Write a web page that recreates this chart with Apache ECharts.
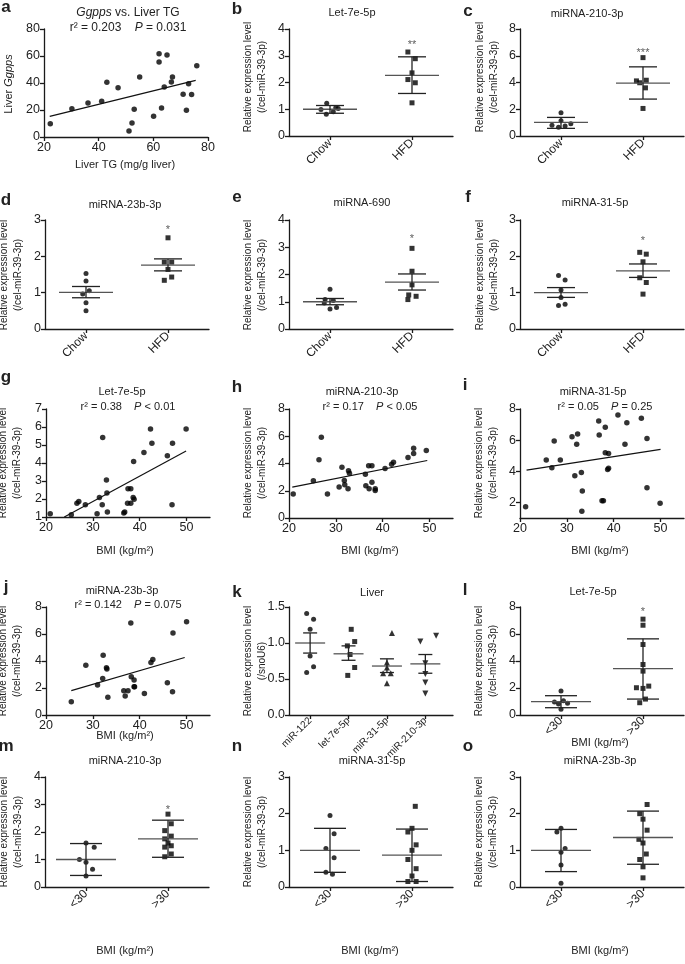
<!DOCTYPE html>
<html><head><meta charset="utf-8">
<script src="https://cdn.jsdelivr.net/npm/echarts@6/dist/echarts.min.js"></script>
<style>html,body{margin:0;padding:0;background:#fff}#c{width:685px;height:964px}</style>
</head><body><div id="c"></div><script>
const FONT = '"Liberation Sans", Arial, Helvetica, sans-serif';

// ---------------- DATA ----------------
// a: Liver TG (mg/g) vs Liver Ggpps
const aPoints = [[22.3,9.9],[30.2,21],[36.1,25.2],[41.1,26.4],[43.0,40.5],[47.1,36.5],[51.1,4.4],[52.2,10.4],[53.0,20.5],[55.0,44.4],[60.1,15.3],[62.1,61.7],[62.1,55.6],[63.0,21.5],[64.0,37],[65.0,60.7],[66.6,40.7],[67.0,44.4],[70.9,31.6],[72.1,19.8],[72.9,39.5],[74.0,31.4],[75.9,52.8]];
const aFit = [[22.1,15.3],[75.5,42]];

// group panels: points are [jitter, value]; bars are [group, mean, low, high]
const dietCats = ['Chow','HFD'];
const bmiCats = ['<30','>30'];

const bChow = [[-0.04,1.22],[-0.11,0.99],[0.07,1.06],[0.1,1.03],[0.04,0.91],[-0.045,0.81]];
const bHFD = [[-0.05,3.14],[0.04,2.89],[0,2.36],[-0.05,2.11],[0.04,1.99],[0,1.24]];
const bBars = [[0,1.0,0.85,1.14],[1,2.27,1.59,2.96]];
const bStar = [1,3.4,'**'];

const cChow = [[0,1.74],[0,1.14],[-0.11,0.8],[-0.03,0.65],[0.05,0.75],[0.12,0.92]];
const cHFD = [[0,5.86],[-0.08,4.12],[-0.04,3.98],[0.04,4.17],[0.03,3.6],[0,2.06]];
const cBars = [[0,1.02,0.57,1.39],[1,3.95,2.76,5.17]];
const cStar = [1,6.2,'***'];

const dChow = [[0,1.53],[0,1.32],[0.04,1.05],[-0.04,0.96],[0,0.72],[0,0.5]];
const dHFD = [[0,2.51],[-0.045,1.84],[0.045,1.84],[0,1.64],[0.045,1.43],[-0.045,1.34]];
const dBars = [[0,1.01,0.86,1.17],[1,1.76,1.6,1.93]];
const dStar = [1,2.72,'*'];

const eChow = [[0,1.46],[-0.06,1.08],[0.04,1.05],[-0.07,0.95],[0,0.73],[0.08,0.79]];
const eHFD = [[0,2.96],[0,2.12],[0,1.62],[-0.04,1.25],[0.05,1.2],[-0.05,1.08]];
const eBars = [[0,1.0,0.89,1.12],[1,1.72,1.43,2.02]];
const eStar = [1,3.32,'*'];

const fChow = [[-0.03,1.47],[0.05,1.35],[0,1.07],[0,0.87],[-0.03,0.65],[0.05,0.68]];
const fHFD = [[-0.04,2.11],[0.04,2.06],[0,1.85],[-0.04,1.41],[0.04,1.28],[0,0.96]];
const fBars = [[0,1.0,0.87,1.14],[1,1.6,1.42,1.79]];
const fStar = [1,2.42,'*'];

// BMI scatter panels [BMI, value]
const gPoints = [[20.9,1.18],[25.4,1.13],[26.6,1.77],[27.0,1.86],[28.4,1.68],[30.9,1.18],[31.4,2.09],[32.0,1.68],[32.1,5.41],[32.9,3.05],[33.0,2.33],[33.1,1.28],[36.6,1.22],[36.8,1.28],[37.4,1.77],[37.5,2.57],[38.1,2.57],[38.1,1.77],[38.6,2.09],[38.7,4.08],[38.8,1.99],[40.9,4.58],[42.3,5.89],[42.6,5.1],[45.9,4.4],[47.0,5.1],[46.9,1.68],[49.9,5.89]];
const gFit = [[23.9,1.0],[49.9,4.67]];
const hPoints = [[20.9,1.76],[25.2,2.73],[26.4,4.27],[26.9,5.93],[28.2,1.76],[30.7,2.27],[31.3,3.73],[31.8,2.76],[31.9,2.44],[32.6,2.15],[32.7,3.46],[32.9,3.29],[36.3,3.22],[36.4,2.37],[37.0,3.83],[37.1,2.15],[37.7,3.83],[37.7,2.63],[38.4,2.15],[38.4,2.02],[40.5,3.63],[41.9,3.95],[42.3,4.1],[45.4,4.44],[46.6,4.73],[46.6,5.12],[49.3,4.95]];
const hFit = [[20.7,2.27],[49.5,4.22]];
const iPoints = [[21.2,1.72],[25.6,4.72],[26.8,4.23],[27.3,5.94],[28.6,4.72],[31.1,6.22],[31.7,3.71],[32.1,5.73],[32.3,6.39],[33.1,3.93],[33.3,2.73],[33.2,1.44],[36.8,7.23],[36.9,6.33],[37.5,2.11],[37.8,2.11],[38.2,6.82],[38.2,5.19],[38.9,5.15],[38.7,4.12],[38.9,4.19],[40.9,7.61],[42.4,5.73],[42.8,7.12],[45.9,7.4],[47.1,2.94],[47.1,6.11],[49.9,1.94]];
const iFit = [[21.4,4.08],[50,5.41]];
const jPoints = [[25.4,0.98],[28.5,3.69],[31.0,2.22],[32.1,2.71],[32.2,4.43],[32.9,3.5],[33.0,3.4],[33.2,1.31],[36.6,1.8],[36.9,1.4],[37.5,1.8],[38.1,6.82],[38.2,2.83],[38.8,2.09],[38.8,2.59],[38.9,2.09],[41.0,1.6],[42.4,3.89],[42.8,4.11],[45.9,2.39],[47.0,1.72],[47.1,6.08],[50.0,6.9]];
const jFit = [[25.4,1.8],[49.6,4.26]];

// k: liver miRNAs (/snoU6)
const kCats = ['miR-122','let-7e-5p','miR-31-5p','miR-210-3p'];
const k122 = [[-0.09,1.41],[0.09,1.33],[0,1.19],[0,0.82],[0.09,0.67],[-0.09,0.59]];
const kLet = [[0.07,1.19],[0.16,1.02],[-0.03,0.96],[0.04,0.84],[0.16,0.66],[-0.02,0.55]];
const k31 = [[0.13,1.14],[0,0.73],[0,0.66],[-0.1,0.58],[0.1,0.58],[0,0.44]];
const k210 = [[-0.13,1.02],[0.28,1.1],[0,0.72],[0,0.57],[0,0.45],[0,0.3]];
const kBars = [[0,1.0,0.86,1.14],[1,0.85,0.76,0.96],[2,0.68,0.59,0.78],[3,0.71,0.58,0.84]];

// l-o: BMI <30 vs >30
const lLow = [[0,1.77],[-0.08,0.97],[0.03,1.05],[0.08,0.87],[-0.03,0.82],[0,0.42]];
const lHigh = [[0,7.1],[0,6.65],[0,5.22],[0,3.74],[0,3.25],[-0.08,2.02],[0,1.97],[0.07,2.14],[0.03,1.18],[-0.04,0.91]];
const lBars = [[0,0.99,0.54,1.43],[1,3.43,1.18,5.64]];
const lStar = [1,7.6,'*'];

const mLow = [[0,1.6],[0.1,1.45],[-0.08,1.0],[0,0.9],[0.08,0.65],[0,0.4]];
const mHigh = [[0,2.65],[0.04,2.3],[-0.04,2.05],[0.04,1.85],[-0.04,1.75],[0,1.6],[0.04,1.5],[-0.04,1.45],[0.04,1.2],[-0.04,1.1]];
const mBars = [[0,1.0,0.42,1.58],[1,1.75,1.08,2.43]];
const mStar = [1,2.8,'*'];

const nLow = [[0,1.95],[0.05,1.45],[-0.05,1.05],[0.05,0.8],[-0.05,0.4],[0.03,0.35]];
const nHigh = [[0.04,2.2],[0,1.6],[-0.05,1.5],[0.05,1.15],[0,1.0],[-0.05,0.75],[0.05,0.5],[0,0.3],[-0.05,0.15],[0.05,0.15]];
const nBars = [[0,1.0,0.4,1.6],[1,0.87,0.15,1.58]];

const oLow = [[0,1.6],[-0.05,1.5],[0.05,1.05],[0,0.95],[0,0.6],[0,0.1]];
const oHigh = [[0.05,2.25],[-0.04,2.0],[0,1.85],[0.05,1.55],[-0.05,1.3],[0,1.2],[0.04,0.9],[-0.04,0.75],[0,0.55],[0,0.25]];
const oBars = [[0,1.0,0.42,1.57],[1,1.35,0.62,2.07]];

// ---------------- BUILD ----------------
const AX = '#1a1a1a';
const TICKFS = 12.5;
const option = {animation:false, backgroundColor:'#fff', grid:[], xAxis:[], yAxis:[], series:[], graphic:[]};

function axisBase(extra){
  return Object.assign({
    type:'value',
    axisLine:{show:true,onZero:false,lineStyle:{color:AX,width:1.3}},
    axisTick:{show:true,length:4,lineStyle:{color:AX,width:1.3}},
    axisLabel:{color:'#222',fontSize:TICKFS,fontFamily:FONT,margin:4},
    splitLine:{show:false}
  }, extra);
}
function addGrid(b){
  const i = option.grid.length;
  option.grid.push({left:b[0],top:b[1],width:b[2],height:b[3]});
  return i;
}
function yAxisOf(gi, y){
  const ax = axisBase({gridIndex:gi, min:y.min, max:y.max});
  if (y.ticks){
    ax.axisTick = Object.assign({}, ax.axisTick, {customValues:y.ticks});
    ax.axisLabel = Object.assign({}, ax.axisLabel, {customValues:y.ticks});
  } else ax.interval = y.step;
  if (y.fmt) ax.axisLabel.formatter = y.fmt;
  return ax;
}
function errRender(hm, hc){
  return function(params, api){
    const x=api.value(0), m=api.value(1), lo=api.value(2), hi=api.value(3);
    const pm=api.coord([x,m]), pl=api.coord([x,lo]), ph=api.coord([x,hi]);
    const ls={stroke:'#222',lineWidth:1.3};
    return {type:'group', children:[
      {type:'line',shape:{x1:pm[0]-hm,y1:pm[1],x2:pm[0]+hm,y2:pm[1]},style:{stroke:'#555',lineWidth:1.3}},
      {type:'line',shape:{x1:pl[0],y1:pl[1],x2:ph[0],y2:ph[1]},style:ls},
      {type:'line',shape:{x1:pl[0]-hc,y1:pl[1],x2:pl[0]+hc,y2:pl[1]},style:ls},
      {type:'line',shape:{x1:ph[0]-hc,y1:ph[1],x2:ph[0]+hc,y2:ph[1]},style:ls}
    ]};
  };
}
function groupPanel(box, cats, xr, groups, symbols, bars, y, star, hw, lab){
  lab = lab || {};
  const gi = addGrid(box);
  const ticks = cats.map((c,i)=>i);
  option.xAxis.push(axisBase({gridIndex:gi, min:xr[0], max:xr[1],
    axisTick:{show:true,length:4,lineStyle:{color:AX,width:1.3},customValues:ticks},
    axisLabel:{color:'#222',fontSize:lab.size||12,fontFamily:FONT,margin:lab.margin||5,rotate:45,customValues:ticks,
      formatter:v=>cats[Math.round(v)]}}));
  option.yAxis.push(yAxisOf(gi, y));
  groups.forEach((g,k)=>{
    const s = symbols[k];
    option.series.push({type:'scatter', xAxisIndex:gi, yAxisIndex:gi,
      symbol:s.sym, symbolRotate:s.rot||0, symbolSize:s.size||5, itemStyle:{color:'#000'},
      data:g.map(p=>[k+p[0], p[1]])});
  });
  option.series.push({type:'custom', xAxisIndex:gi, yAxisIndex:gi, renderItem:errRender(hw[0],hw[1]),
    data:bars, z:3, clip:false});
  if (star){
    option.series.push({type:'scatter', xAxisIndex:gi, yAxisIndex:gi, symbol:'circle', symbolSize:1,
      itemStyle:{color:'rgba(0,0,0,0)'}, data:[[star[0],star[1]]],
      label:{show:true,position:'inside',formatter:star[2],color:'#333',fontSize:11,fontFamily:FONT}});
  }
  return gi;
}
function scatPanel(box, pts, fit, x, y){
  const gi = addGrid(box);
  const xa = axisBase({gridIndex:gi, min:x.min, max:x.max});
  if (x.ticks){
    xa.axisTick = Object.assign({}, xa.axisTick, {customValues:x.ticks});
    xa.axisLabel = Object.assign({}, xa.axisLabel, {customValues:x.ticks});
  } else xa.interval = x.step;
  option.xAxis.push(xa);
  option.yAxis.push(yAxisOf(gi, y));
  option.series.push({type:'scatter', xAxisIndex:gi, yAxisIndex:gi, symbol:'circle', symbolSize:5.5,
    itemStyle:{color:'#000'}, data:pts});
  option.series.push({type:'line', xAxisIndex:gi, yAxisIndex:gi, symbol:'none', data:fit,
    lineStyle:{color:'#111',width:1.2}});
}
function T(x, y, text, o){
  o = o || {};
  const fs = o.size || 12;
  option.graphic.push({type:'text', x:x, y:y, rotation:o.rot||0, z:100,
    style:{text:text, fill:'#222', fontSize:fs, fontFamily:FONT, fontWeight:o.bold?'bold':'normal',
      textAlign:o.align||'center', align:o.align||'center',
      textVerticalAlign:'middle', verticalAlign:'middle', lineHeight:o.lh||fs+2,
      rich:{i:{fontStyle:'italic',fontSize:fs,fontFamily:FONT,fill:'#222'}}}});
}

const circ = {sym:'circle'}, sq = {sym:'rect', size:5};
const YL = 'Relative expression level\n(/cel-miR-39-3p)';
const BMI = 'BMI (kg/m²)';

// Row 1
scatPanel([44,29,164,108], aPoints, aFit, {min:20,max:80,step:20}, {min:0,max:80,step:20});
T(128,13,'{i|Ggpps} vs. Liver TG');
T(128,28,'r² = 0.203    {i|P} = 0.031');
T(125,165,'Liver TG (mg/g liver)',{size:11});
T(9,84,'Liver {i|Ggpps}',{rot:Math.PI/2,size:11});

groupPanel([289,29,164,107], dietCats, [-0.5,1.5], [bChow,bHFD], [circ,sq], bBars, {min:0,max:4,step:1}, bStar, [27,14]);
T(352,13,'Let-7e-5p',{size:11});
T(255,77,YL,{rot:Math.PI/2,size:10,lh:13.5});

groupPanel([520,29,164,107], dietCats, [-0.5,1.5], [cChow,cHFD], [circ,sq], cBars, {min:0,max:8,step:2}, cStar, [27,14]);
T(587,14,'miRNA-210-3p',{size:11});
T(487,77,YL,{rot:Math.PI/2,size:10,lh:13.5});

// Row 2
groupPanel([45,220,164,109], dietCats, [-0.5,1.5], [dChow,dHFD], [circ,sq], dBars, {min:0,max:3,step:1}, dStar, [27,14]);
T(125,205,'miRNA-23b-3p',{size:11});
T(11,275,YL,{rot:Math.PI/2,size:10,lh:13.5});

groupPanel([289,220,164,109], dietCats, [-0.5,1.5], [eChow,eHFD], [circ,sq], eBars, {min:0,max:4,step:1}, eStar, [27,14]);
T(362,203,'miRNA-690',{size:11});
T(255,275,YL,{rot:Math.PI/2,size:10,lh:13.5});

groupPanel([520,220,164,109], dietCats, [-0.5,1.5], [fChow,fHFD], [circ,sq], fBars, {min:0,max:3,step:1}, fStar, [27,14]);
T(595,203,'miRNA-31-5p',{size:11});
T(487,275,YL,{rot:Math.PI/2,size:10,lh:13.5});

// Row 3
const bmiX = {min:20,max:55,ticks:[20,30,40,50]};
scatPanel([46,409,164,108], gPoints, gFit, bmiX, {min:1,max:7,step:1});
T(122,392,'Let-7e-5p',{size:11});
T(128,407,'r² = 0.38    {i|P} < 0.01',{size:11});
T(125,551,BMI,{size:11});
T(10,463,YL,{rot:Math.PI/2,size:10,lh:13.5});

scatPanel([289,409,164,109], hPoints, hFit, bmiX, {min:0,max:8,step:2});
T(362,392,'miRNA-210-3p',{size:11});
T(370,407,'r² = 0.17    {i|P} < 0.05',{size:11});
T(370,551,BMI,{size:11});
T(255,463,YL,{rot:Math.PI/2,size:10,lh:13.5});

scatPanel([520,409,164,109], iPoints, iFit, bmiX, {min:1,max:8,ticks:[2,4,6,8]});
T(593,392,'miRNA-31-5p',{size:11});
T(605,407,'r² = 0.05    {i|P} = 0.25',{size:11});
T(600,551,BMI,{size:11});
T(486,463,YL,{rot:Math.PI/2,size:10,lh:13.5});

// Row 4
scatPanel([46,607,164,108], jPoints, jFit, bmiX, {min:0,max:8,step:2});
T(122,591,'miRNA-23b-3p',{size:11});
T(128,605,'r² = 0.142    {i|P} = 0.075',{size:11});
T(125,736,BMI,{size:11});
T(10,661,YL,{rot:Math.PI/2,size:10,lh:13.5});

groupPanel([289,607,164,108], kCats, [-0.55,3.72], [k122,kLet,k31,k210],
  [circ,sq,{sym:'triangle',size:6},{sym:'triangle',size:6,rot:180}], kBars,
  {min:0,max:1.5,step:0.5,fmt:v=>v.toFixed(1)}, null, [15,7], {size:10,margin:4});
T(372,593,'Liver',{size:11});
T(255,661,'Relative expression level\n(/snoU6)',{rot:Math.PI/2,size:10,lh:13.5});

groupPanel([520,607,164,108], bmiCats, [-0.5,1.5], [lLow,lHigh], [circ,sq], lBars, {min:0,max:8,step:2}, lStar, [30,16], {size:12,margin:4});
T(593,592,'Let-7e-5p',{size:11});
T(600,743,BMI,{size:11});
T(486,661,YL,{rot:Math.PI/2,size:10,lh:13.5});

// Row 5
groupPanel([45,777,164,110], bmiCats, [-0.5,1.5], [mLow,mHigh], [circ,sq], mBars, {min:0,max:4,step:1}, mStar, [30,16]);
T(125,761,'miRNA-210-3p',{size:11});
T(125,951,BMI,{size:11});
T(11,832,YL,{rot:Math.PI/2,size:10,lh:13.5});

groupPanel([289,777,164,110], bmiCats, [-0.5,1.5], [nLow,nHigh], [circ,sq], nBars, {min:0,max:3,step:1}, null, [30,16]);
T(372,761,'miRNA-31-5p',{size:11});
T(370,951,BMI,{size:11});
T(255,832,YL,{rot:Math.PI/2,size:10,lh:13.5});

groupPanel([520,777,164,110], bmiCats, [-0.5,1.5], [oLow,oHigh], [circ,sq], oBars, {min:0,max:3,step:1}, null, [30,16]);
T(600,761,'miRNA-23b-3p',{size:11});
T(600,951,BMI,{size:11});
T(486,832,YL,{rot:Math.PI/2,size:10,lh:13.5});

// Panel letters
const letters = [['a',6,7],['b',237,9],['c',468,11],['d',6,200],['e',237,197],['f',468,197],
  ['g',6,377],['h',237,387],['i',465,385],['j',6,587],['k',237,592],['l',465,590],
  ['m',6,746],['n',237,746],['o',468,746]];
letters.forEach(l=>T(l[1],l[2],l[0],{size:17,bold:true}));

const chart = echarts.init(document.getElementById('c'), null, {renderer:'canvas'});
chart.setOption(option);
</script></body></html>
